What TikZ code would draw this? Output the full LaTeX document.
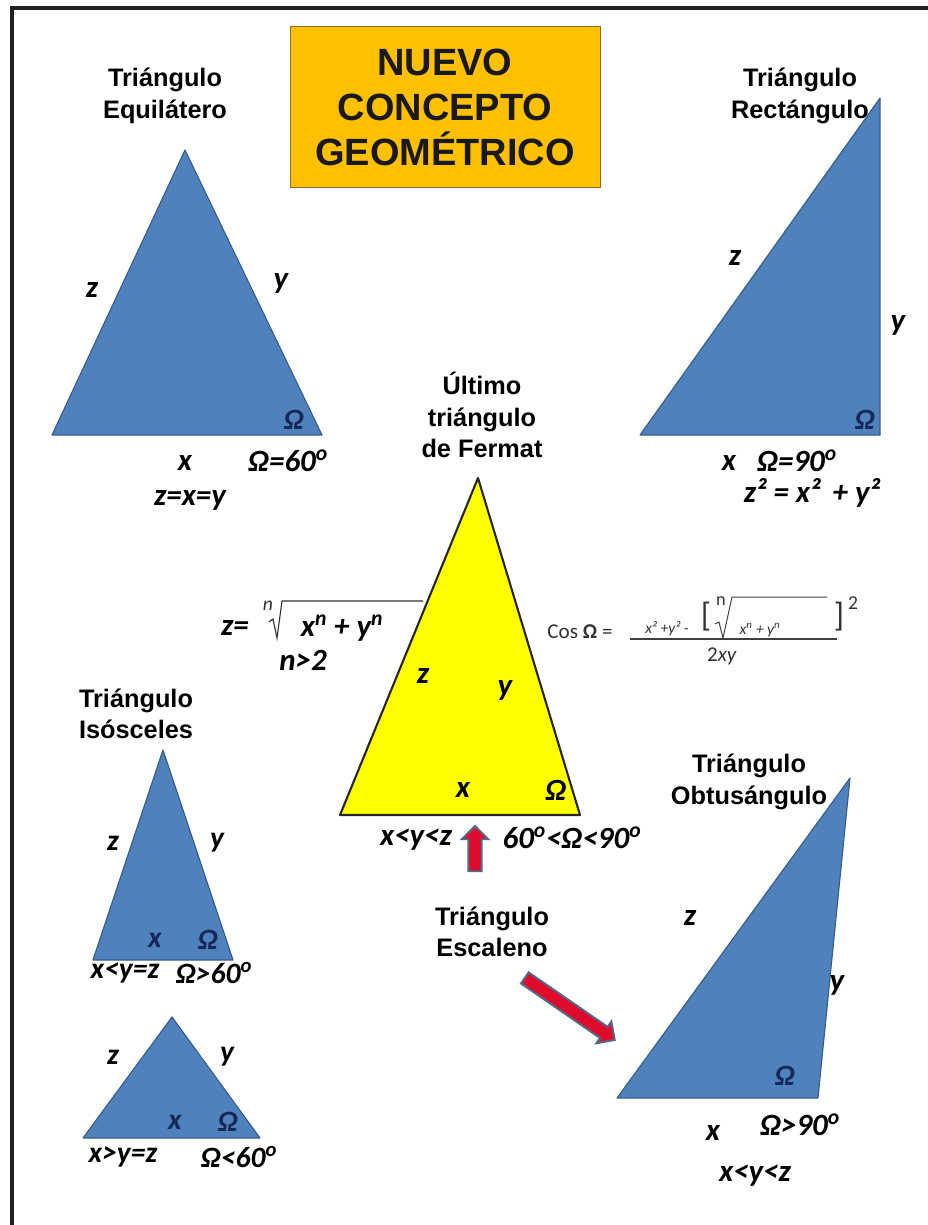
\documentclass[tikz,border=0pt]{standalone}
\usepackage{fontspec}
\setmainfont{Liberation Sans}
\newfontfamily\lblfont{Carlito}
\definecolor{triblue}{RGB}{79, 129, 189}
\definecolor{triedge}{RGB}{56, 93, 138}
\definecolor{trinavy}{RGB}{22, 40, 88}
\definecolor{fermatyellow}{RGB}{255, 255, 0}
\definecolor{titlegold}{RGB}{255, 192, 0}
\definecolor{titleedge}{RGB}{150, 105, 40}
\definecolor{arrred}{RGB}{222, 12, 42}
\definecolor{arredge}{RGB}{84, 104, 140}
\definecolor{frametone}{RGB}{34, 34, 34}
\usetikzlibrary{shapes.arrows, positioning}

\begin{document}
\begin{tikzpicture}[x=0.025cm, y=-0.025cm,
  tri/.style={fill=triblue, draw=triedge, line width=0.8pt, line join=round},
  head/.style={align=center, font=\bfseries\fontsize{18}{22.5}\selectfont},
  lbl/.style={inner sep=0pt, font=\lblfont\bfseries\itshape\fontsize{22}{24}\selectfont},
  smlbl/.style={inner sep=0pt, font=\lblfont\bfseries\itshape\fontsize{21}{23}\selectfont},
  inlbl/.style={smlbl, text=trinavy},
  formula/.style={inner sep=0pt, font=\lblfont\fontsize{#1}{#1}\selectfont, text=black!80},
  bigarrow/.style={single arrow, fill=arrred, draw=arredge, line width=1.4pt,
    inner xsep=0pt, inner ysep=0.1cm, minimum width=0.66cm,
    single arrow head extend=0.12cm, single arrow head indent=0pt}
]
  \useasboundingbox (0,0) rectangle (928,1225);
  \draw[line width=2.2pt, frametone] (928,8) -- (12,8) -- (12,1225);

  % title
  \node[draw=titleedge, fill=titlegold, minimum width=7.75cm, minimum height=4.03cm,
        align=center, text=black!90, font=\bfseries\fontsize{27}{32}\selectfont] (title) at (445,107)
    {NUEVO\\CONCEPTO\\GEOMÉTRICO};

  % Equilatero
  \node[head] (eqT) at (165,96) {Triángulo\\Equilátero};
  \draw[tri] (185,150) -- (52,435) -- (322,435) -- cycle;
  \node[lbl] (eqz) at (92,290) {z};
  \node[lbl] (eqy) at (281,283) {y};
  \node[inlbl] (eqw) at (294,420) {Ω};
  \node[lbl] (eqx) at (185,463) {x};
  \node[lbl] (eqang) at (288,461) {Ω=60\textsuperscript{o}};
  \node[lbl] (eqrel) at (190,500) {z=x=y};

  % Rectangulo
  \node[head] (recT) at (800,96) {Triángulo\\Rectángulo};
  \draw[tri] (880,98) -- (640,435) -- (880,435) -- cycle;
  \node[lbl] (recz) at (735,258) {z};
  \node[lbl] (recy) at (898,325) {y};
  \node[inlbl] (recw) at (865,420) {Ω};
  \node[lbl] (recx) at (729,463) {x};
  \node[lbl] (recang) at (797,461) {Ω=90\textsuperscript{o}};
  \node[lbl] (recrel) at (812,493) {z² = x²\, + y²};

  % Fermat
  \node[head] (ferT) at (482,415) {Último\\triángulo\\de Fermat};
  \draw[fill=fermatyellow, draw=black!85, line width=1.5pt, line join=round]
    (478,478) -- (340,815) -- (580,815) -- cycle;
  \node[lbl] (ferz) at (423,676) {z};
  \node[lbl] (fery) at (505,690) {y};
  \node[lbl] (ferx) at (463,790) {x};
  \node[lbl] (ferw) at (556,790) {Ω};
  \node[lbl] (ferrel) at (416,840) {x<y<z};
  \node[lbl] (ferang) at (572,838) {60\textsuperscript{o}<Ω<90\textsuperscript{o}};

  % z = n-th root
  \node[lbl] (zeq) at (235,628) {z=};
  \node[formula=14, font=\lblfont\itshape\fontsize{14}{14}\selectfont] (zroot) at (268,606) {n};
  \node[lbl] (zrad) at (342,628) {x\textsuperscript{n} + y\textsuperscript{n}};
  \draw[line width=0.8pt, black!80] (269,622) -- (273,619) -- (277,638) -- (282,601) -- (423,601);
  \node[lbl] (ncond) at (303,660) {n>2};

  % Cos formula
  \node[formula=15] (cosl) at (580,632) {Cos \textbf{Ω} =};
  \node[formula=11, font=\lblfont\itshape\fontsize{11}{11}\selectfont] (numa) at (667,629) {x² +y² -};
  \node[formula=24] (lbr) at (706,617) {[};
  \node[formula=13] (cosn) at (721,601) {n};
  \node[formula=11, font=\lblfont\itshape\fontsize{11}{11}\selectfont] (numb) at (760,630) {x\textsuperscript{n} + y\textsuperscript{n}};
  \draw[line width=0.7pt, black!75] (715,624) -- (719,622) -- (723,638) -- (732,597) -- (827,597);
  \node[formula=24] (rbr) at (839,617) {]};
  \node[formula=14] (sqr) at (853,603) {2};
  \draw[line width=0.8pt, black!75] (630,639) -- (837,639);
  \node[formula=15] (den) at (722,656) {2\textit{xy}};

  % Isosceles
  \node[head] (isoT) at (136,714) {Triángulo\\Isósceles};
  \draw[tri] (163,750) -- (93,960) -- (233,960) -- cycle;
  \node[smlbl] (isoz) at (113,843) {z};
  \node[smlbl] (isoy) at (217,843) {y};
  \node[inlbl] (isox) at (155,940) {x};
  \node[inlbl] (isow) at (208,940) {Ω};
  \node[smlbl] (isorel) at (125,973) {x<y=z};
  \node[smlbl] (isoang) at (214,973) {Ω>60\textsuperscript{o}};

  \draw[tri] (172,1017) -- (83,1138) -- (260,1138) -- cycle;
  \node[smlbl] (wisoz) at (113,1057) {z};
  \node[smlbl] (wisoy) at (227,1057) {y};
  \node[inlbl] (wisox) at (175,1122) {x};
  \node[inlbl] (wisow) at (228,1122) {Ω};
  \node[smlbl] (wisorel) at (123,1157) {x>y=z};
  \node[smlbl] (wisoang) at (239,1157) {Ω<60\textsuperscript{o}};

  % Escaleno
  \node[head] (escT) at (492,932) {Triángulo\\Escaleno};
  \node[bigarrow, minimum height=1.13cm, rotate=90] (uparr) at (475,852) {};
  \node[bigarrow, minimum height=2.73cm, rotate=-34.6] (diagarr) at (567,1007) {};

  % Obtusangulo
  \node[head] (obtT) at (749,782) {Triángulo\\Obtusángulo};
  \draw[tri] (850,778) -- (617,1098) -- (818,1098) -- cycle;
  \node[lbl] (obtz) at (690,918) {z};
  \node[lbl] (obty) at (837,985) {y};
  \node[inlbl] (obtw) at (785,1076) {Ω};
  \node[lbl] (obtx) at (713,1133) {x};
  \node[lbl] (obtang) at (800,1125) {Ω>90\textsuperscript{o}};
  \node[lbl] (obtrel) at (755,1176) {x<y<z};
\end{tikzpicture}
\end{document}
